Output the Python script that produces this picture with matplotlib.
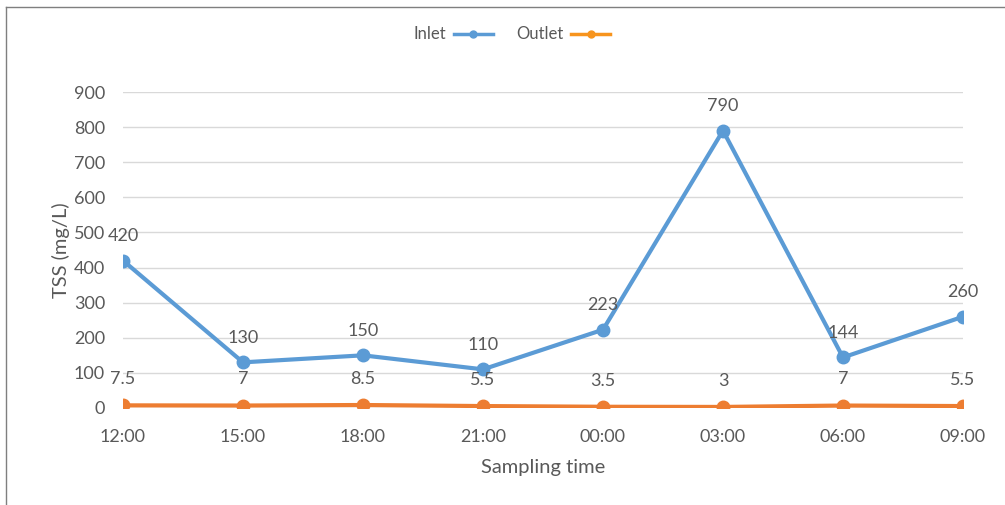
import matplotlib
matplotlib.use("Agg")
import matplotlib.pyplot as plt
from matplotlib.lines import Line2D

times = ["12:00", "15:00", "18:00", "21:00", "00:00", "03:00", "06:00", "09:00"]
inlet = [420, 130, 150, 110, 223, 790, 144, 260]
outlet = [7.5, 7, 8.5, 5.5, 3.5, 3, 7, 5.5]
yticks = [0, 100, 200, 300, 400, 500, 600, 700, 800, 900]

BLUE = "#5B9BD5"
ORANGE = "#ED7D31"
ORANGE_LEG = "#F7941D"
GREY = "#595959"

plt.rcParams["font.family"] = ["Lato", "DejaVu Sans"]

fig = plt.figure(figsize=(10.05, 5.05), dpi=100)
ax = fig.add_axes([0.1224, 0.1921, 0.8358, 0.6257])

x = list(range(len(times)))
ax.plot(x, inlet, color=BLUE, lw=3, marker="o", ms=9, zorder=3)
ax.plot(x, outlet, color=ORANGE, lw=3, marker="o", ms=9, zorder=3)

for xi, v in zip(x, inlet):
    ax.annotate(f"{v:g}", (xi, v), xytext=(0, 12), textcoords="offset points",
                ha="center", va="bottom", fontsize=13, color=GREY)
for xi, v in zip(x, outlet):
    ax.annotate(f"{v:g}", (xi, v), xytext=(0, 13), textcoords="offset points",
                ha="center", va="bottom", fontsize=13, color=GREY)

ax.set_xlim(0, len(times) - 1)
ax.set_ylim(0, 900)
ax.set_yticks(yticks)
ax.set_xticks(x)
ax.set_xticklabels(times)
ax.tick_params(axis="both", length=0, labelsize=13, colors=GREY)
ax.tick_params(axis="x", pad=15)
ax.tick_params(axis="y", pad=13)
ax.grid(axis="y", color="#D9D9D9", lw=1)
ax.set_axisbelow(True)
for s in ax.spines.values():
    s.set_visible(False)

ax.set_ylabel("TSS (mg/L)", fontsize=14.5, color=GREY, labelpad=3)
ax.set_xlabel("Sampling time", fontsize=14.5, color=GREY, labelpad=10)

handles = [
    Line2D([], [], color=BLUE, lw=2.5, marker="o", ms=5),
    Line2D([], [], color=ORANGE_LEG, lw=2.5, marker="o", ms=5),
]
fig.legend(handles, ["Inlet", "Outlet"], loc="center", bbox_to_anchor=(0.509, 0.932),
           ncol=2, frameon=False, markerfirst=False, fontsize=12,
           labelcolor=GREY, handlelength=2.3, columnspacing=1.4, handletextpad=0.5)

# chart frame (left and top edges)
fig.add_artist(Line2D([0.006, 0.006], [0.0, 0.986], color="#7F7F7F", lw=1))
fig.add_artist(Line2D([0.006, 1.0], [0.986, 0.986], color="#7F7F7F", lw=1))

fig.savefig("out.png", dpi=100)
